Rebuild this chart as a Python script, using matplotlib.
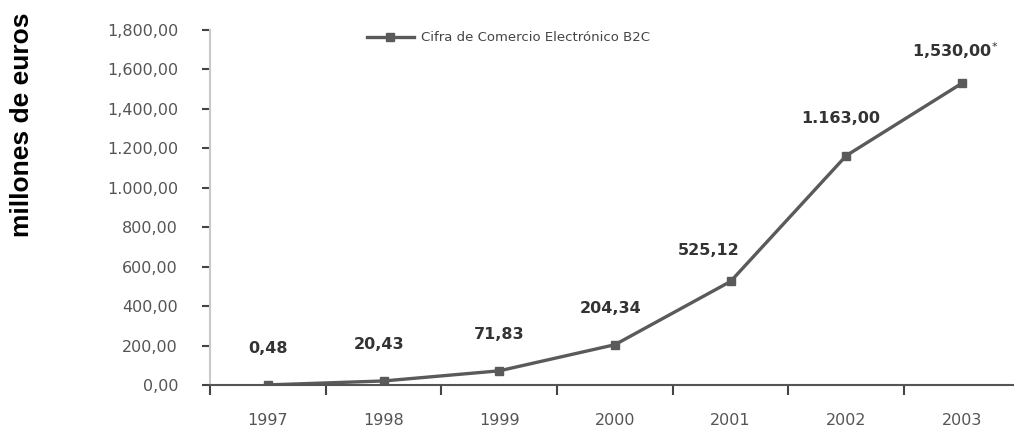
import numpy as np
import matplotlib.pyplot as plt

years = ['1997', '1998', '1999', '2000', '2001', '2002', '2003']
ventas = [0.48, 20.43, 71.83, 204.34, 525.12, 1163.00, 1530.00]
etiquetas = ['0,48', '20,43', '71,83', '204,34', '525,12', '1.163,00', '1,530,00$^{*}$']
yticks = [0, 200, 400, 600, 800, 1000, 1200, 1400, 1600, 1800]
ytick_labels = ['0,00', '200,00', '400,00', '600,00', '800,00', '1.000,00',
                '1.200,00', '1,400,00', '1,600,00', '1,800,00']
serie = 'Cifra de Comercio Electrónico B2C'

fig = plt.figure(figsize=(10.14, 4.28), dpi=100)
ax = fig.add_axes([210 / 1014, 43 / 428, 804 / 1014, 355 / 428])

x = np.arange(len(years))
ax.plot(x, ventas, color='#5a5a5a', linewidth=2.4, marker='s', markersize=5.5,
        label=serie)

# desplazamiento de cada etiqueta (en puntos)
dx = [0, -3, 0, -3, -16, -4, -5]
dy = [21, 21, 21, 21, 17, 21, 16]
for xi, v, lab, ox, oy in zip(x, ventas, etiquetas, dx, dy):
    ax.annotate(lab, (xi, v), xytext=(ox, oy), textcoords='offset points',
                ha='center', va='bottom', fontsize=11.5, fontweight='bold',
                color='#333333')

ax.set_xlim(-0.5, 6.45)
ax.set_ylim(0, 1800)

ax.set_yticks(yticks)
ax.set_yticklabels(ytick_labels)
ax.set_xticks(np.arange(-0.5, 6.5, 1.0))
ax.set_xticklabels([])
ax.set_xticks(x, minor=True)
ax.set_xticklabels(years, minor=True)

ax.tick_params(axis='y', length=6, width=1.5, color='#444444', pad=17,
               labelsize=11.5, labelcolor='#555555')
ax.tick_params(axis='x', which='major', length=7, width=1.5, color='#444444')
ax.tick_params(axis='x', which='minor', length=0, pad=20, labelsize=11.5,
               labelcolor='#555555')

ax.spines['top'].set_visible(False)
ax.spines['right'].set_visible(False)
ax.spines['left'].set_color('#c8c8c8')
ax.spines['left'].set_linewidth(1.5)
ax.spines['bottom'].set_color('#555555')
ax.spines['bottom'].set_linewidth(1.5)

leg = ax.legend(loc='upper left', bbox_to_anchor=(0.18, 1.03), frameon=False,
                fontsize=9.5, handlelength=3.6, handletextpad=0.5)
for t in leg.get_texts():
    t.set_color('#444444')

fig.text(22 / 1014, 1 - 125 / 428, 'millones de euros', rotation=90,
         ha='center', va='center', fontsize=19, fontweight='bold',
         family='Liberation Sans', color='black')

fig.savefig('out.png', dpi=100)
